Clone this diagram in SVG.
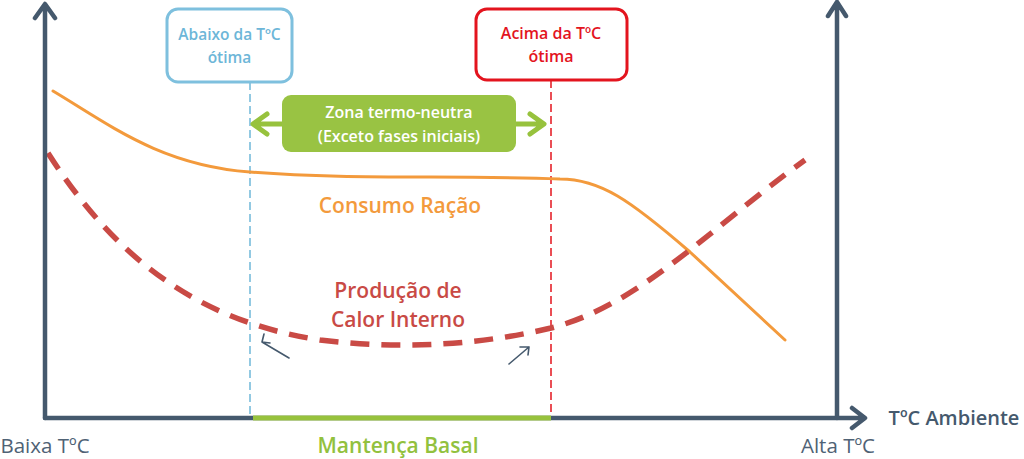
<svg xmlns="http://www.w3.org/2000/svg" width="1024" height="459" viewBox="0 0 1024 459">
<style>
text{font-family:"Open Sans","Liberation Sans",sans-serif;text-anchor:middle}
.b{font-weight:600}
.axis{stroke:#45596d;stroke-width:4.5;fill:none;stroke-linecap:round;stroke-linejoin:round}
.small{stroke:#45596d;stroke-width:1.6;fill:none;stroke-linecap:round;stroke-linejoin:round}
.zone{stroke:#97c23d;stroke-width:5;fill:none;stroke-linecap:round;stroke-linejoin:round}
</style>
<rect width="1024" height="459" fill="#ffffff"/>
<g id="connectors">
<line x1="250" y1="82" x2="250" y2="418" stroke="#6fb8d9" stroke-width="1.5" stroke-dasharray="8,4"/>
<line x1="551" y1="80" x2="551" y2="418" stroke="#e3141e" stroke-width="1.5" stroke-dasharray="8,4"/>
<path d="M53,91 C110,125 160,165 250,172 C350,180 450,175 560,179 C600,179 630,200 690,252 L785,340" fill="none" stroke="#f39a3c" stroke-width="3" stroke-linecap="round"/>
<path d="M48,153 C110,250 190,320 320,340 C400,350 480,345 551,328 C640,305 710,228 805,160" fill="none" stroke="#c94a45" stroke-width="5.5" stroke-dasharray="19,12"/>
<path class="axis" d="M45,418 L45,5 M35,18 L45,4 L55,18"/>
<path class="axis" d="M45,418 L864,418 M852,408 L865,418 L852,428"/>
<path class="axis" d="M837,418 L837,3 M828,16 L837,2 L846,16"/>
<line x1="253" y1="418" x2="551" y2="418" stroke="#97c23d" stroke-width="5"/>
<path class="zone" d="M282,124 L254,124 M267,114 L253,124 L267,134"/>
<path class="zone" d="M516,124 L543,124 M530,114 L544,124 L530,134"/>
<path class="small" d="M289,358 L262,342 M264,334 L262,342 L270,343"/>
<path class="small" d="M509,364 L529,347 M520,347 L529,347 L528,355"/>
</g>
<g id="node-below">
<rect x="167" y="9" width="125" height="73" rx="11" fill="#ffffff" stroke="#7ec0de" stroke-width="3"/>
<text class="b" x="229.5" y="40" font-size="15.5" fill="#6db6d8">Abaixo da TºC</text>
<text class="b" x="229.5" y="63" font-size="15.5" fill="#6db6d8">ótima</text>
</g>
<g id="node-above">
<rect x="476" y="9" width="151" height="71" rx="11" fill="#ffffff" stroke="#e3141e" stroke-width="3"/>
<text class="b" x="551" y="39" font-size="16" fill="#e3141e">Acima da TºC</text>
<text class="b" x="551" y="62" font-size="16" fill="#e3141e">ótima</text>
</g>
<g id="node-zone">
<rect x="282" y="95" width="234" height="57" rx="9" fill="#99c343"/>
<text class="b" x="399" y="118" font-size="16" fill="#ffffff">Zona termo-neutra</text>
<text class="b" x="399" y="142" font-size="16" fill="#ffffff">(Exceto fases iniciais)</text>
</g>
<g id="labels">
<text class="b" x="400" y="213" font-size="21" fill="#f39a3c">Consumo Ração</text>
<text class="b" x="398" y="298" font-size="21" fill="#c94a45">Produção de</text>
<text class="b" x="398" y="327" font-size="21" fill="#c94a45">Calor Interno</text>
<text class="b" x="398" y="453" font-size="21" fill="#92c13e">Mantença Basal</text>
<text x="45" y="453" font-size="20.5" fill="#4f6275">Baixa TºC</text>
<text x="838" y="453" font-size="20.5" fill="#4f6275">Alta TºC</text>
<text class="b" x="954" y="425" font-size="20" fill="#45596d">TºC Ambiente</text>
</g>
</svg>
